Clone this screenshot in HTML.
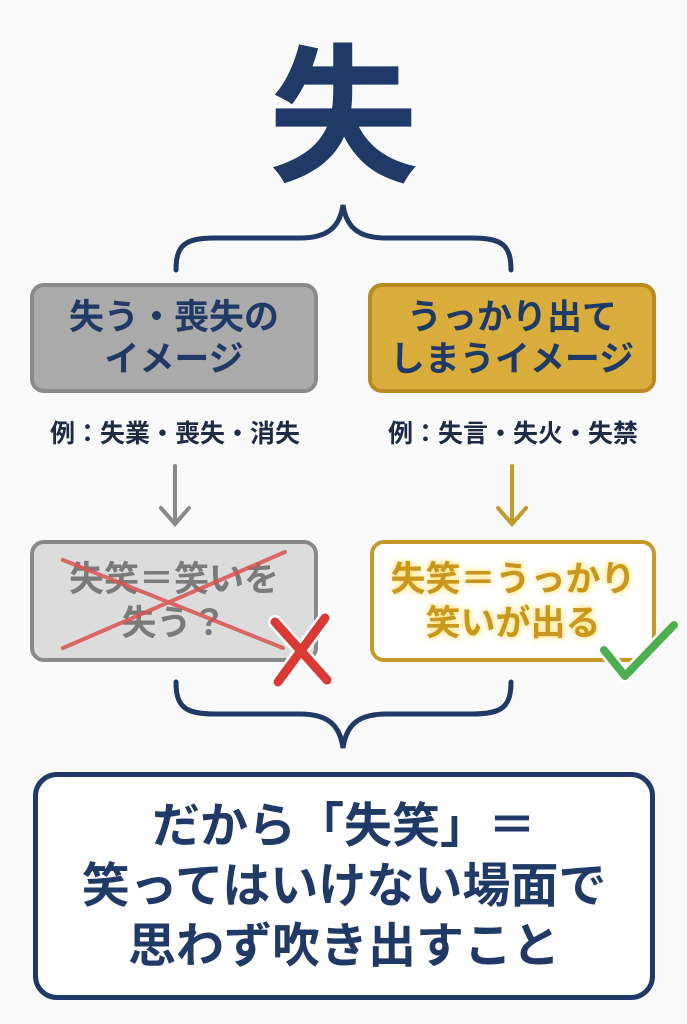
<!DOCTYPE html>
<html><head><meta charset="utf-8"><style>
html,body{margin:0;padding:0;background:#fafafa;}
body{width:687px;height:1024px;position:relative;overflow:hidden;font-family:"Liberation Sans","Noto Sans CJK JP",sans-serif;font-weight:bold;}
.a{position:absolute;box-sizing:border-box;}
.c{text-align:center;white-space:nowrap;}
</style></head><body>
<div class="a c" style="left:0;width:687px;top:28px;font-size:150px;line-height:180px;color:#1f3a66;">失</div>
<svg class="a" style="left:0;top:0" width="687" height="1024">
 <path d="M176 270 C176 245 185 238 215 238 L300 238 C330 238 340 225 343 205 C346 225 356 238 386 238 L472 238 C502 238 511 245 511 270" fill="none" stroke="#1f3a66" stroke-width="5" stroke-linecap="round"/>
 <path d="M176 682 C176 707 185 714 215 714 L300 714 C330 714 340 727 343 748 C346 727 356 714 386 714 L472 714 C502 714 511 707 511 682" fill="none" stroke="#1f3a66" stroke-width="5" stroke-linecap="round"/>
 <path d="M175 466 L175 522 M161 508 L175 524 L189 508" fill="none" stroke="#8a8a8a" stroke-width="4" stroke-linecap="round"/>
 <path d="M512 466 L512 522 M498 508 L512 524 L526 508" fill="none" stroke="#c49a2a" stroke-width="4" stroke-linecap="round"/>
</svg>
<div class="a c" style="left:30px;top:283px;width:288px;height:110px;background:#aaaaaa;border:4px solid #8a8a8a;border-radius:14px;color:#1f3a66;font-size:35px;line-height:42px;padding-top:10px;">失う・喪失の<br>イメージ</div>
<div class="a c" style="left:368px;top:283px;width:288px;height:110px;background:#d9ad3c;border:4px solid #b88a1f;border-radius:14px;color:#1f3a66;font-size:35px;line-height:42px;padding-top:10px;">うっかり出て<br>しまうイメージ</div>
<div class="a c" style="left:20px;width:310px;top:418px;font-size:25px;line-height:32px;color:#1f2a44;">例：失業・喪失・消失</div>
<div class="a c" style="left:358px;width:310px;top:418px;font-size:25px;line-height:32px;color:#1f2a44;">例：失言・失火・失禁</div>
<div class="a c" style="left:30px;top:540px;width:288px;height:122px;background:#dcdcdc;border:4px solid #888;border-radius:14px;color:#7a7a7a;font-size:35px;line-height:44px;padding-top:14px;">失笑＝笑いを<br>失う？</div>
<div class="a c" style="left:370px;top:540px;width:286px;height:122px;background:#fff;border:4px solid #c49a2a;border-radius:14px;color:#c9961f;font-size:35px;line-height:44px;padding-top:14px;text-shadow:0 0 8px #ffe27a,0 0 4px #ffec9a;">失笑＝うっかり<br>笑いが出る</div>
<svg class="a" style="left:0;top:0" width="687" height="1024">
 <path d="M63 560 L283 648 M285 552 L63 648" stroke="#d9534f" stroke-width="4" stroke-linecap="round" opacity="0.85"/>
 <path d="M275 622 L327 680 M325 618 L278 682" stroke="#fff" stroke-width="14" stroke-linecap="round"/>
 <path d="M275 622 L327 680 M325 618 L278 682" stroke="#d93a35" stroke-width="9" stroke-linecap="round"/>
 <path d="M604 650 L625 676 L674 625" fill="none" stroke="#fff" stroke-width="13" stroke-linecap="round" stroke-linejoin="round"/>
 <path d="M604 650 L625 676 L674 625" fill="none" stroke="#4caf50" stroke-width="8" stroke-linecap="round" stroke-linejoin="round"/>
</svg>
<div class="a c" style="left:33px;top:772px;width:622px;height:228px;background:#fff;border:5px solid #1f3a66;border-radius:24px;color:#1f3a66;font-size:48px;line-height:60px;padding-top:20px;">だから「失笑」＝<br>笑ってはいけない場面で<br>思わず吹き出すこと</div>
</body></html>
